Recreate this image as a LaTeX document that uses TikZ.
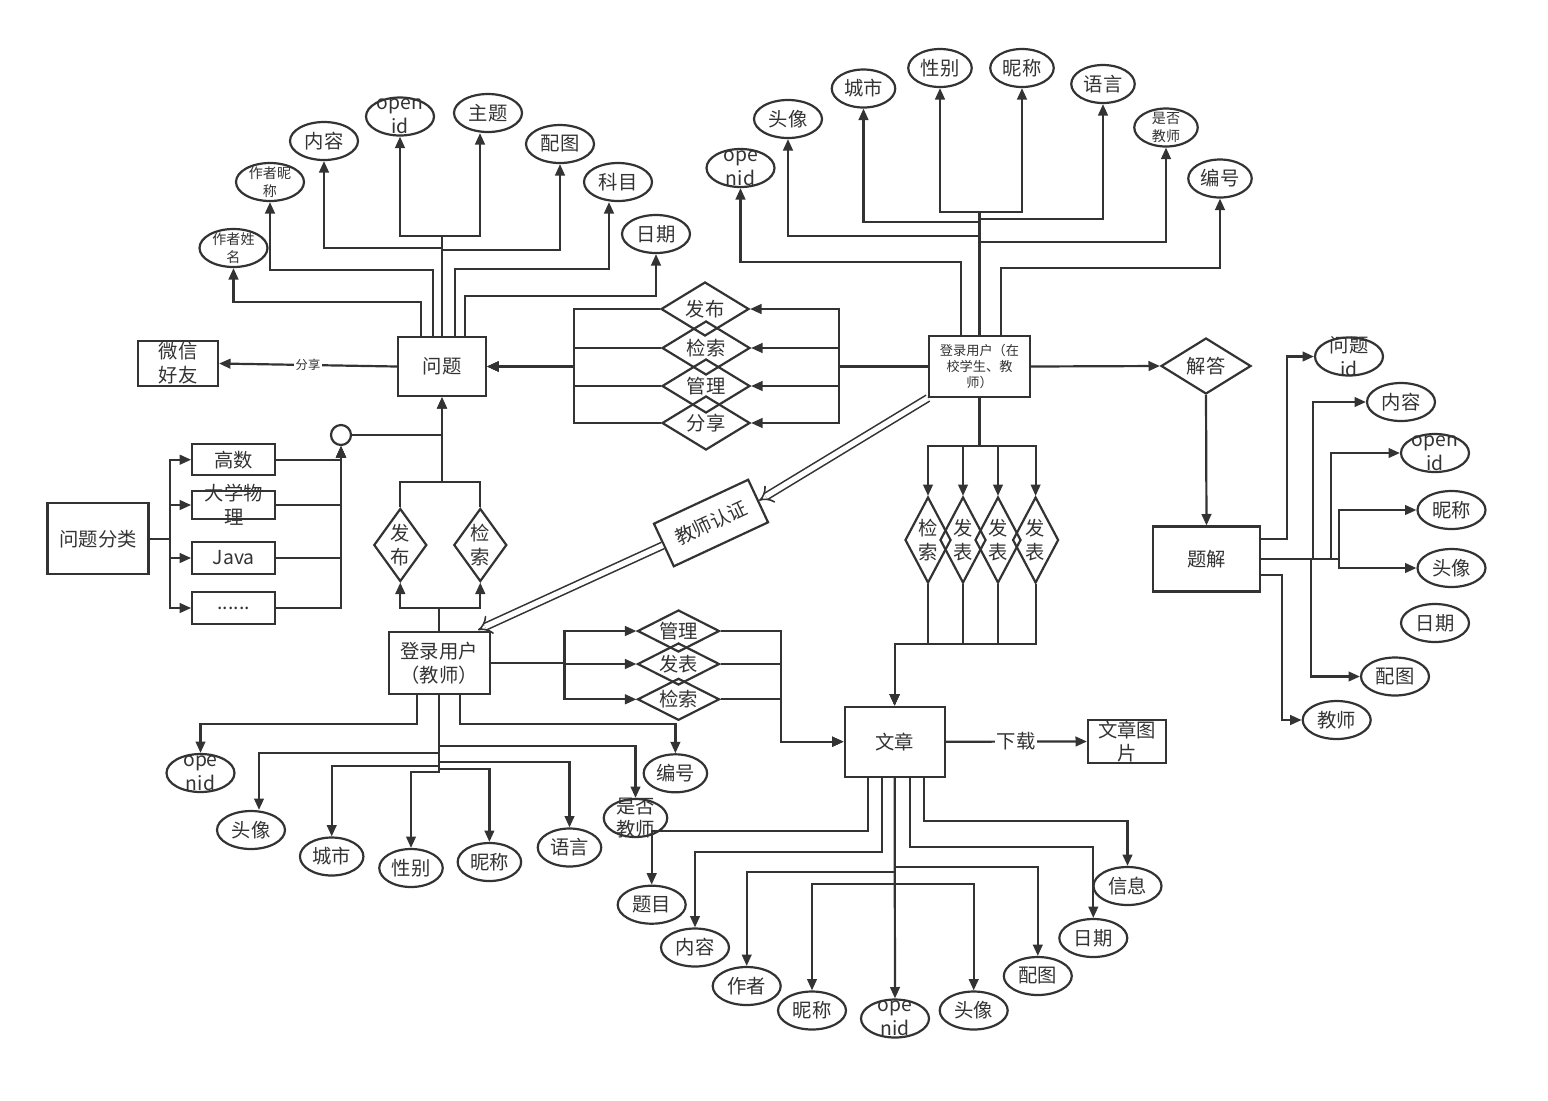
\documentclass[tikz,border=0pt]{standalone}
\usepackage{fontspec}
\setmainfont{Noto Sans CJK SC}
\usepackage{tikz}
\usetikzlibrary{arrows.meta, shapes.geometric, positioning}
\definecolor{ln}{HTML}{333333}
\tikzset{
  lbl/.style={font=\fontsize{11}{13.5}\selectfont, align=center, inner sep=0pt, text=ln},
  sml/.style={font=\fontsize{8}{10}\selectfont, align=center, inner sep=0pt, text=ln},
  xsml/.style={font=\fontsize{7.5}{9}\selectfont, align=center, inner sep=0pt, text=ln},
  ent/.style={rectangle, draw, fill=white, inner sep=0pt, label={[lbl]center:#1}},
  entxs/.style={rectangle, draw, fill=white, inner sep=0pt, label={[xsml]center:#1}},
  attr/.style={ellipse, draw, fill=white, inner sep=0pt, minimum width=1.36cm, minimum height=0.76cm, label={[lbl]center:#1}},
  attrs/.style={ellipse, draw, fill=white, inner sep=0pt, minimum width=1.36cm, minimum height=0.76cm, label={[sml]center:#1}},
  nar/.style={minimum width=1.27cm},
  rel/.style={diamond, draw, inner sep=0pt, label={[lbl]center:#1}},
  certbox/.style={rectangle, draw, fill=white, minimum width=2.08cm, minimum height=0.94cm, inner sep=0pt, font=\fontsize{11}{13.5}\selectfont},
  dbl/.style={draw=ln, double=white, double distance=3pt, line width=0.9pt, -{Implies[scale=1.8]}},
  elbl/.style={fill=white, inner sep=1pt, text=ln}
}
\begin{document}
\begin{tikzpicture}[x=0.02cm, y=-0.02cm, >={Triangle[length=6.5pt,width=5.5pt]}, line width=1.25pt, color=ln]
    \fill[white] (0,0) rectangle (1548,1100);
    \useasboundingbox (0,0) rectangle (1548,1100);

    % Thực thể 问题 và thuộc tính
    \node[ent={问题}, minimum width=1.76cm, minimum height=1.18cm] (q) at (442,366.5) {};
    \node[ent={微信\\好友}, minimum width=1.6cm, minimum height=0.9cm] (wx) at (178,363.5) {};
    \node[attrs={作者姓\\名}] (qa1) at (233.5,248) {};
    \node[attrs={作者昵\\称}] (qa2) at (270,182) {};
    \node[attr={内容}] (qa3) at (324,141) {};
    \node[attr={open\\id}] (qa4) at (400,116.5) {};
    \node[attr={主题}] (qa5) at (488,113) {};
    \node[attr={配图}] (qa6) at (560,144) {};
    \node[attr={科目}] (qa7) at (618,182) {};
    \node[attr={日期}] (qa8) at (656,234) {};

    \draw[->] (q.west) -- node[elbl, font=\fontsize{7}{8}\selectfont] {分享} (wx.east);
    \draw[->] (q.north -| 421,0) -- (421,302) -| (qa1.south);
    \draw[->] (q.north -| 433,0) -- (433,270) -| (qa2.south);
    \draw[->] (q.north) -- (442,248) -| (qa3.south);
    \draw[->] (q.north) -- (442,236) -| (qa4.south);
    \draw[->] (q.north) -- (442,236) -| (qa5.south -| 480,0);
    \draw[->] (q.north) -- (442,250) -| (qa6.south);
    \draw[->] (q.north -| 455,0) -- (455,269) -| (qa7.south -| 609,0);
    \draw[->] (q.north -| 465,0) -- (465,296) -| (qa8.south);

    % Các quan hệ ở giữa
    \node[rel={发布}, minimum width=1.76cm, minimum height=1.08cm] (d1) at (705,309) {};
    \node[rel={检索}, minimum width=1.76cm, minimum height=1.08cm] (d2) at (706,348) {};
    \node[rel={管理}, minimum width=1.76cm, minimum height=1.08cm] (d3) at (706,386) {};
    \node[rel={分享}, minimum width=1.76cm, minimum height=1.08cm] (d4) at (706,423) {};

    % Người dùng đăng nhập (học sinh, giáo viên)
    \node[entxs={登录用户（在\\校学生、教\\师）}, minimum width=2.02cm, minimum height=1.22cm] (lz) at (979.5,366.5) {};
    \node[attr={ope\\nid}] (lz1) at (740.5,168) {};
    \node[attr={头像}] (lz2) at (788,119) {};
    \node[attr={城市}, nar] (lz3) at (863.5,88.5) {};
    \node[attr={性别}, nar] (lz4) at (940,68) {};
    \node[attr={昵称}, nar] (lz5) at (1022,68) {};
    \node[attr={语言}, nar] (lz6) at (1103,84) {};
    \node[attrs={是否\\教师}, nar] (lz7) at (1166,127.5) {};
    \node[attr={编号}, nar] (lz8) at (1220,178.5) {};

    \foreach \d in {d1,d2,d3,d4} {
        \draw[->] (lz.west) -- (839,366.5) |- (\d.east);
        \draw[->] (\d.west) -| (574,366.5) -- (q.east);
    }
    \draw[->] (lz.north -| 961,0) -- (961,262) -| (lz1.south);
    \draw[->] (lz.north) -- (979.5,236) -| (lz2.south);
    \draw[->] (lz.north) -- (979.5,222) -| (lz3.south);
    \draw[->] (lz.north) -- (979.5,212) -| (lz4.south);
    \draw[->] (lz.north) -- (979.5,212) -| (lz5.south);
    \draw[->] (lz.north) -- (979.5,219) -| (lz6.south);
    \draw[->] (lz.north) -- (979.5,242) -| (lz7.south);
    \draw[->] (lz.north -| 1001,0) -- (1001,268) -| (lz8.south);

    % Giải đáp và 题解
    \node[rel={解答}, minimum width=1.8cm, minimum height=1.12cm] (jd) at (1206,366) {};
    \node[ent={题解}, minimum width=2.14cm, minimum height=1.3cm] (tj) at (1206.5,559) {};
    \node[attr={问题\\id}] (tj1) at (1349,356.5) {};
    \node[attr={内容}] (tj2) at (1401,402) {};
    \node[attr={open\\id}] (tj3) at (1435,453) {};
    \node[attr={昵称}] (tj4) at (1451.5,510) {};
    \node[attr={头像}] (tj5) at (1451.5,568) {};
    \node[attr={日期}] (tj6) at (1435,623) {};
    \node[attr={配图}] (tj7) at (1395,676.5) {};
    \node[attr={教师}] (tj8) at (1336.7,720) {};

    \draw[->] (lz.east) -- (jd.west);
    \draw[->] (jd.south) -- (tj.north);
    \draw[->] (tj.east |- 0,539) -- (1287,539) |- (tj1.west);
    \draw[->] (tj.east) -- (1313,559) |- (tj2.west);
    \draw[->] (tj.east) -- (1331,559) |- (tj3.west);
    \draw[->] (tj.east) -- (1339,559) |- (tj4.west);
    \draw[->] (tj.east) -- (1339,559) |- (tj5.west);
    \draw[->] (tj.east) -- (1311,559) |- (tj7.west);
    \draw[->] (tj.east |- 0,575) -- (1282,575) |- (tj8.west);

    % Phân loại câu hỏi
    \node[ent={问题分类}, minimum width=2.02cm, minimum height=1.42cm] (fl) at (98,538.7) {};
    \node[ent={高数}, minimum width=1.66cm, minimum height=0.62cm] (c1) at (233.7,459.7) {};
    \node[ent={大学物\\理}, minimum width=1.66cm, minimum height=0.56cm] (c2) at (233.7,505) {};
    \node[ent={Java}, minimum width=1.66cm, minimum height=0.64cm] (c3) at (233.7,558) {};
    \node[ent={......}, minimum width=1.66cm, minimum height=0.64cm] (c4) at (233.7,608) {};
    \node[circle, draw, fill=white, minimum size=0.4cm, inner sep=0pt] (circ) at (341,435) {};

    \foreach \c in {c1,c2,c3,c4} {
        \draw[->] (fl.east) -- (170,538.7) |- (\c.west);
        \draw[->] (\c.east) -| (circ.south);
    }
    \draw (circ.east) -- (circ.east -| q.south);

    % Giáo viên đăng nhập
    \node[rel={发\\布}, minimum width=1.06cm, minimum height=1.46cm] (pd1) at (400.3,545) {};
    \node[rel={检\\索}, minimum width=1.06cm, minimum height=1.46cm] (pd2) at (480.3,545) {};
    \node[ent={登录用户\\（教师）}, minimum width=2.02cm, minimum height=1.24cm] (lt) at (439.3,663.3) {};

    \draw[->] (pd1.north) -- (400.3,481.7) -| (q.south);
    \draw[->] (pd2.north) -- (480.3,481.7) -| (q.south);
    \draw[->] (lt.north) -- (439.3,608.3) -| (pd1.south);
    \draw[->] (lt.north) -- (439.3,608.3) -| (pd2.south);

    % Xác thực giáo viên
    \node[certbox, rotate=25] (cert) at (711,523) {教师认证};
    \coordinate (ct) at (478,630);
    \draw[dbl] (lz.south west) -- (cert.east);
    \draw[dbl] (cert.west) -- (ct);

    \node[attr={ope\\nid}] (lt1) at (200.5,773) {};
    \node[attr={头像}] (lt2) at (251,830) {};
    \node[attr={城市}, nar] (lt3) at (331.7,856.5) {};
    \node[attr={性别}, nar] (lt4) at (411,868) {};
    \node[attr={昵称}, nar] (lt5) at (489.4,862) {};
    \node[attr={语言}, nar] (lt6) at (569.5,847.5) {};
    \node[attr={是否\\教师}, nar] (lt7) at (635.5,818) {};
    \node[attr={编号}, nar] (lt8) at (675.4,773.3) {};

    \draw[->] (lt.south -| 417,0) -- (417,724) -| (lt1.north);
    \draw[->] (lt.south) -- (439.3,753.3) -| (lt2.north -| 259,0);
    \draw[->] (lt.south) -- (439.3,765.7) -| (lt3.north);
    \draw[->] (lt.south) -- (439.3,771.7) -| (lt4.north);
    \draw[->] (lt.south) -- (439.3,769) -| (lt5.north);
    \draw[->] (lt.south) -- (439.3,761.7) -| (lt6.north);
    \draw[->] (lt.south) -- (439.3,746) -| (lt7.north);
    \draw[->] (lt.south -| 460,0) -- (460,724) -| (lt8.north);

    % Bài viết 文章
    \node[rel={管理}, minimum width=1.64cm, minimum height=0.84cm] (ld1) at (678.5,631) {};
    \node[rel={发表}, minimum width=1.64cm, minimum height=0.84cm] (ld2) at (678.5,664) {};
    \node[rel={检索}, minimum width=1.64cm, minimum height=0.84cm] (ld3) at (678.5,699.3) {};
    \node[ent={文章}, minimum width=2cm, minimum height=1.4cm] (wz) at (894.6,741.7) {};
    \node[ent={文章图\\片}, minimum width=1.56cm, minimum height=0.86cm] (wt) at (1127,741.5) {};
    \node[rel={检\\索}, minimum width=0.92cm, minimum height=1.72cm] (vd1) at (928,540) {};
    \node[rel={发\\表}, minimum width=0.92cm, minimum height=1.72cm] (vd2) at (963,540) {};
    \node[rel={发\\表}, minimum width=0.92cm, minimum height=1.72cm] (vd3) at (998,540) {};
    \node[rel={发\\表}, minimum width=0.92cm, minimum height=1.72cm] (vd4) at (1035.6,540) {};

    \foreach \d in {ld1,ld2,ld3} {
        \draw[->] (lt.east) -- (564.4,663.3) |- (\d.west);
        \draw[->] (\d.east) -| (781.3,741.7) -- (wz.west);
    }
    \foreach \d in {vd1,vd2,vd3,vd4} {
        \draw[->] (lz.south) -- (979.5,446) -| (\d.north);
        \draw[->] (\d.south) -- (\d.south |- 0,644) -| (wz.north);
    }
    \draw[->] (wz.east) -- node[elbl, font=\fontsize{11}{13}\selectfont] {下载} (wt.west);

    \node[attr={题目}] (wz1) at (651.7,904.7) {};
    \node[attr={内容}] (wz2) at (695,947.5) {};
    \node[attr={作者}] (wz3) at (746.7,986) {};
    \node[attr={昵称}] (wz4) at (812,1010.5) {};
    \node[attr={ope\\nid}] (wz5) at (895,1018.5) {};
    \node[attr={头像}] (wz6) at (973.7,1010.5) {};
    \node[attr={配图}] (wz7) at (1037.8,976) {};
    \node[attr={日期}] (wz8) at (1093.3,938) {};
    \node[attr={信息}] (wz9) at (1127.5,886) {};

    \draw[->] (wz.south -| 868,0) -- (868,831) -| (wz1.north);
    \draw[->] (wz.south -| 882,0) -- (882,852) -| (wz2.north);
    \draw[->] (wz.south) -- (wz5.north);
    \draw[->] (wz.south) -- (894.6,872) -| (wz3.north);
    \draw[->] (wz.south) -- (894.6,884) -| (wz4.north);
    \draw[->] (wz.south) -- (894.6,884) -| (wz6.north);
    \draw[->] (wz.south) -- (894.6,867) -| (wz7.north);
    \draw[->] (wz.south -| 910,0) -- (910,847) -| (wz8.north);
    \draw[->] (wz.south -| 924,0) -- (924,821) -| (wz9.north);

\end{tikzpicture}
\end{document}
